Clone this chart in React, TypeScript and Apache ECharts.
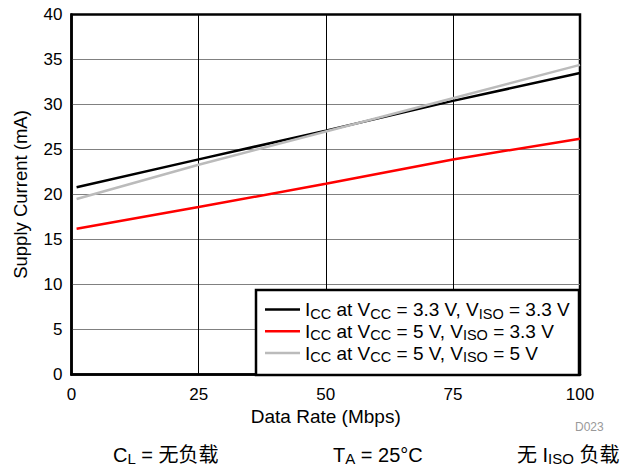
import React, { useEffect, useRef } from "react";
import * as echarts from "echarts";

const dataRate = [1, 25, 50, 75, 100];
const iccVcc33Viso33 = [20.8, 23.9, 27.1, 30.4, 33.5];
const iccVcc5Viso33 = [16.2, 18.6, 21.2, 23.9, 26.2];
const iccVcc5Viso5 = [19.5, 23.3, 27.0, 30.7, 34.4];

const seriesNames = [
  "ICC at VCC = 3.3 V, VISO = 3.3 V",
  "ICC at VCC = 5 V, VISO = 3.3 V",
  "ICC at VCC = 5 V, VISO = 5 V",
];
// alternating main / subscript parts
const legendParts = [
  ["I", "CC", " at V", "CC", " = 3.3 V, V", "ISO", " = 3.3 V"],
  ["I", "CC", " at V", "CC", " = 5 V, V", "ISO", " = 3.3 V"],
  ["I", "CC", " at V", "CC", " = 5 V, V", "ISO", " = 5 V"],
];
const seriesColors = ["#000000", "#ff0000", "#bbbbbb"];
const seriesValues = [iccVcc33Viso33, iccVcc5Viso33, iccVcc5Viso5];

const footerParts = [
  ["C", "L", " = 无负载"],
  ["T", "A", " = 25°C"],
  ["无 I", "ISO", " 负载"],
];

const FONT = "'Liberation Sans', Arial, Helvetica, 'Noto Sans CJK SC', sans-serif";

function toRich(parts: string[]) {
  return parts
    .map((p, i) => (i % 2 === 0 ? `{m|${p}}` : `{s|${p}}`))
    .join("");
}

export default function App() {
  const ref = useRef<HTMLDivElement>(null);
  useEffect(() => {
    if (!ref.current) return;
    const chart = echarts.init(ref.current, null, { renderer: "svg" });
    const richMain = (size: number, sub: number, pad: number) => ({
      m: { fontSize: size, fontFamily: FONT, color: "#000" },
      s: { fontSize: sub, fontFamily: FONT, color: "#000", padding: [pad, 0, 0, 0] },
    });
    const footerX = [113, 333, 517];
    chart.setOption({
      animation: false,
      backgroundColor: "#fff",
      grid: {
        left: 71.5,
        right: 59,
        top: 14.5,
        bottom: 97.5,
        show: true,
        borderColor: "#000",
        borderWidth: 2.5,
        backgroundColor: "transparent",
      },
      xAxis: {
        type: "value",
        min: 0,
        max: 100,
        interval: 25,
        name: "Data Rate (Mbps)",
        nameLocation: "middle",
        nameGap: 31,
        nameTextStyle: { fontSize: 19, fontFamily: FONT, color: "#000" },
        axisLine: { show: true, lineStyle: { color: "#000", width: 2.5 } },
        axisTick: { show: false },
        axisLabel: { fontSize: 17, fontFamily: FONT, color: "#000", margin: 11 },
        splitLine: {
          show: true,
          showMinLine: false,
          showMaxLine: false,
          lineStyle: { color: "#000", width: 1 },
        },
      },
      yAxis: {
        type: "value",
        min: 0,
        max: 40,
        interval: 5,
        name: "Supply Current (mA)",
        nameLocation: "middle",
        nameGap: 42,
        nameTextStyle: { fontSize: 18.5, fontFamily: FONT, color: "#000" },
        axisLine: { show: true, lineStyle: { color: "#000", width: 2.5 } },
        axisTick: { show: false },
        axisLabel: { fontSize: 17, fontFamily: FONT, color: "#000", margin: 9 },
        splitLine: {
          show: true,
          showMinLine: false,
          showMaxLine: false,
          lineStyle: { color: "#808080", width: 1.2 },
        },
      },
      legend: {
        orient: "vertical",
        left: 265,
        top: 300,
        padding: 0,
        itemGap: 1,
        itemWidth: 35,
        itemHeight: 2.5,
        icon: "rect",
        z: 20,
        data: seriesNames,
        formatter: (name: string) => toRich(legendParts[seriesNames.indexOf(name)]),
        textStyle: { rich: richMain(19, 14.5, 8) },
      },
      graphic: [
        {
          type: "rect",
          z: 10,
          shape: { x: 256, y: 290, width: 323, height: 85 },
          style: { fill: "#fff", stroke: "#000", lineWidth: 2.5 },
        },
        ...footerParts.map((parts, i) => ({
          type: "text",
          z: 10,
          left: footerX[i],
          top: 445,
          style: {
            text: toRich(parts),
            rich: richMain(20, 15, 8),
          },
        })),
        {
          type: "text",
          z: 10,
          left: 575,
          top: 421,
          style: { text: "D023", fontSize: 12, fontFamily: FONT, fill: "#999" },
        },
      ],
      series: seriesNames.map((name, i) => ({
        name,
        type: "line",
        data: dataRate.map((x, j) => [x, seriesValues[i][j]]),
        showSymbol: false,
        symbol: "none",
        color: seriesColors[i],
        lineStyle: { color: seriesColors[i], width: 2.5 },
      })),
    });
    return () => chart.dispose();
  }, []);
  return <div ref={ref} style={{ width: 639, height: 472, margin: -8 }} />;
}
